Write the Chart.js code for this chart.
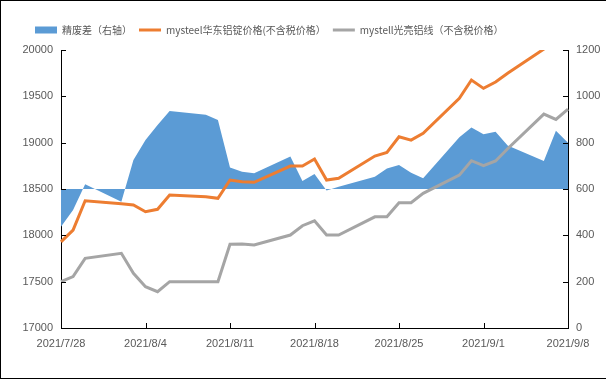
<!DOCTYPE html>
<html>
<head>
<meta charset="utf-8">
<script src="https://cdn.jsdelivr.net/npm/chart.js@4/dist/chart.umd.min.js"></script>
<style>
  html, body { margin: 0; padding: 0; background: #fff; }
  canvas { display: block; }
</style>
</head>
<body>
<canvas id="c" width="606" height="379"></canvas>
<script>
// All calendar days 2021/7/28 .. 2021/9/8 (weekends have no data)
const dates = [
  '2021/7/28','2021/7/29','2021/7/30','2021/7/31','2021/8/1','2021/8/2','2021/8/3',
  '2021/8/4','2021/8/5','2021/8/6','2021/8/7','2021/8/8','2021/8/9','2021/8/10',
  '2021/8/11','2021/8/12','2021/8/13','2021/8/14','2021/8/15','2021/8/16','2021/8/17',
  '2021/8/18','2021/8/19','2021/8/20','2021/8/21','2021/8/22','2021/8/23','2021/8/24',
  '2021/8/25','2021/8/26','2021/8/27','2021/8/28','2021/8/29','2021/8/30','2021/8/31',
  '2021/9/1','2021/9/2','2021/9/3','2021/9/4','2021/9/5','2021/9/6','2021/9/7',
  '2021/9/8'
];

// 精废差（右轴）
const spread = [
  437, 509, 620, null, null, 545, 725,
  812, 876, 937, null, null, 920, 898,
  693, 675, 668, null, null, 740, 634,
  665, 594, 610, null, null, 653, 689,
  704, 670, 646, null, null, 823, 866,
  836, 847, 788, null, null, 721, 851,
  800
];

// mysteel华东铝锭价格(不含税价格）
const ingotPrice = [
  17930, 18057, 18373, null, null, 18340, 18327,
  18255, 18281, 18435, null, null, 18417, 18399,
  18597, 18579, 18572, null, null, 18748, 18748,
  18823, 18597, 18615, null, null, 18856, 18895,
  19064, 19028, 19100, null, null, 19478, 19676,
  19586, 19655, 19750, null, null, 20010, 20120,
  20200
];

// mystell光亮铝线（不含税价格）
const wirePrice = [
  17500, 17555, 17752, null, null, 17806, 17590,
  17446, 17392, 17500, null, null, 17500, 17500,
  17903, 17906, 17895, null, null, 18003, 18104,
  18157, 18003, 18003, null, null, 18200, 18200,
  18352, 18352, 18453, null, null, 18650, 18805,
  18751, 18802, 18934, null, null, 19308, 19251,
  19362
];

const seriesNames = ['精废差（右轴）', 'mysteel华东铝锭价格(不含税价格）', 'mystell光亮铝线（不含税价格）'];
const leftTicks = [17000, 17500, 18000, 18500, 19000, 19500, 20000];
const rightTicks = [0, 200, 400, 600, 800, 1000, 1200];
const xTickEvery = 7;

const BLUE = '#5B9BD5', ORANGE = '#ED7D31', GRAY = '#A5A5A5', TXT = '#595959';
const PAD_TOP = 18;
const LEGEND_SHIFT = 28;

const legendSpace = {
  id: 'legendSpace',
  afterInit(chart) {
    const lg = chart.legend;
    if (!lg) return;
    const orig = lg.fit.bind(lg);
    lg.fit = function () {
      orig();
      this.height = 50 - PAD_TOP;
    };
  },
  afterLayout(chart) {
    if (chart.legend) chart.legend.left = LEGEND_SHIFT;
  }
};

const decor = {
  id: 'decor',
  afterDraw(chart) {
    const ctx = chart.ctx, a = chart.chartArea;
    ctx.save();
    ctx.strokeStyle = '#000';
    ctx.lineWidth = 1;
    ctx.beginPath();
    const xs = chart.scales.x, yl = chart.scales.y, yr = chart.scales.y1;
    dates.forEach((d, i) => {
      if (i % xTickEvery === 0) {
        const px = Math.round(xs.getPixelForValue(i)) + 0.5;
        ctx.moveTo(px, a.bottom);
        ctx.lineTo(px, a.bottom - 5);
      }
    });
    leftTicks.forEach(v => {
      const py = Math.round(yl.getPixelForValue(v)) + 0.5;
      ctx.moveTo(a.left, py); ctx.lineTo(a.left + 5, py);
    });
    rightTicks.forEach(v => {
      const py = Math.round(yr.getPixelForValue(v)) + 0.5;
      ctx.moveTo(a.right, py); ctx.lineTo(a.right - 5, py);
    });
    // outer frame
    ctx.moveTo(0.5, 0); ctx.lineTo(0.5, 379);
    ctx.moveTo(0, 0.5); ctx.lineTo(606, 0.5);
    ctx.moveTo(0, 378.5); ctx.lineTo(606, 378.5);
    ctx.stroke();
    ctx.restore();
  }
};

const tickFont = { family: '"Liberation Sans", Arial, sans-serif', size: 11 };

new Chart(document.getElementById('c'), {
  type: 'line',
  data: {
    labels: dates,
    datasets: [
      {
        label: seriesNames[0],
        data: spread,
        yAxisID: 'y1',
        backgroundColor: BLUE,
        borderColor: BLUE,
        borderWidth: 0,
        pointRadius: 0,
        fill: { value: 600 },
        spanGaps: true,
        tension: 0,
        order: 10
      },
      {
        label: seriesNames[1],
        data: ingotPrice,
        yAxisID: 'y',
        borderColor: ORANGE,
        backgroundColor: ORANGE,
        borderWidth: 3,
        pointRadius: 0,
        fill: false,
        spanGaps: true,
        tension: 0,
        order: 0
      },
      {
        label: seriesNames[2],
        data: wirePrice,
        yAxisID: 'y',
        borderColor: GRAY,
        backgroundColor: GRAY,
        borderWidth: 3,
        pointRadius: 0,
        fill: false,
        spanGaps: true,
        tension: 0,
        order: 1
      }
    ]
  },
  options: {
    responsive: false,
    animation: false,
    events: [],
    layout: { padding: { left: 0, right: 0, top: PAD_TOP, bottom: 0 } },
    plugins: {
      tooltip: { enabled: false },
      legend: {
        position: 'top',
        align: 'start',
        labels: {
          color: TXT,
          font: { family: '"Noto Sans CJK SC", "Noto Sans", sans-serif', size: 10 },
          padding: 7,
          usePointStyle: true,
          pointStyleWidth: 22,
          boxHeight: 7,
          generateLabels(chart) {
            return chart.data.datasets.map((ds, i) => ({
              text: ds.label,
              fillStyle: ds.backgroundColor,
              strokeStyle: i === 0 ? BLUE : ds.borderColor,
              lineWidth: i === 0 ? 0 : 3,
              pointStyle: i === 0 ? 'rect' : 'line',
              fontColor: TXT,
              hidden: false,
              datasetIndex: i
            }));
          }
        }
      }
    },
    scales: {
      x: {
        type: 'category',
        offset: false,
        grid: { display: false, drawTicks: false },
        border: { display: true, color: '#000', width: 1 },
        ticks: {
          autoSkip: false,
          maxRotation: 0,
          minRotation: 0,
          padding: 9,
          color: TXT,
          font: tickFont,
          callback(v, i) { return i % xTickEvery === 0 ? dates[i] : null; }
        },
        afterFit(s) { s.height = 51; }
      },
      y: {
        position: 'left',
        min: 17000,
        max: 20000,
        grid: { display: false, drawTicks: false },
        border: { display: true, color: '#000', width: 1 },
        ticks: {
          stepSize: 500,
          padding: 8,
          color: TXT,
          font: tickFont,
          callback(v) { return String(v); }
        },
        afterFit(s) { s.width = 61; }
      },
      y1: {
        position: 'right',
        min: 0,
        max: 1200,
        grid: { display: false, drawTicks: false },
        border: { display: true, color: '#000', width: 1 },
        ticks: {
          stepSize: 200,
          padding: 8,
          color: TXT,
          font: tickFont,
          callback(v) { return String(v); }
        },
        afterFit(s) { s.width = 38; }
      }
    }
  },
  plugins: [legendSpace, decor]
});
</script>
</body>
</html>
